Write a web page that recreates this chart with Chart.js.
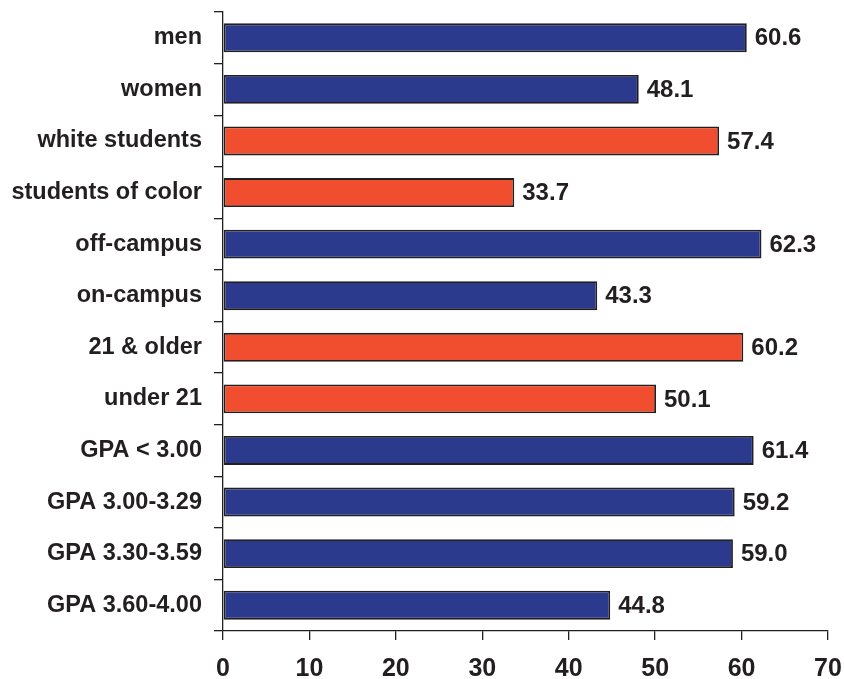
<!DOCTYPE html>
<html>
<head>
<meta charset="utf-8">
<script src="https://cdn.jsdelivr.net/npm/chart.js@4/dist/chart.umd.min.js"></script>
<style>
html,body{margin:0;padding:0;background:#fff;}
#wrap{width:844px;height:679px;}
</style>
</head>
<body>
<div id="wrap"><canvas id="c" width="844" height="679"></canvas></div>
<script>
const categories = ["men","women","white students","students of color","off-campus","on-campus","21 & older","under 21","GPA < 3.00","GPA 3.00-3.29","GPA 3.30-3.59","GPA 3.60-4.00"];
const values = [60.6,48.1,57.4,33.7,62.3,43.3,60.2,50.1,61.4,59.2,59.0,44.8];
const groups = ["blue","blue","red","red","blue","blue","red","red","blue","blue","blue","blue"];
const xTicks = [0,10,20,30,40,50,60,70];

const palette = {blue:"#2B3A8C", red:"#F04E2E"};
const ink = "#231F20";
const FAMILY = "'Liberation Sans', Arial, Helvetica, sans-serif";

const labelPlugin = {
  id:"valueLabels",
  afterDatasetsDraw(chart){
    const ctx = chart.ctx;
    const meta = chart.getDatasetMeta(0);
    ctx.save();
    ctx.font = "bold 24px " + FAMILY;
    ctx.fillStyle = ink;
    ctx.textAlign = "left";
    ctx.textBaseline = "middle";
    meta.data.forEach((bar,i)=>{
      ctx.fillText(values[i].toFixed(1), bar.x + 8, bar.y + 1);
    });
    ctx.restore();
  }
};

new Chart(document.getElementById("c"), {
  type:"bar",
  data:{
    labels:categories,
    datasets:[{
      data:values,
      backgroundColor:groups.map(g=>palette[g]),
      borderColor:ink,
      borderWidth:1.8,
      borderSkipped:false,
      categoryPercentage:1,
      barPercentage:0.56
    }]
  },
  options:{
    indexAxis:"y",
    responsive:false,
    animation:false,
    layout:{padding:{top:12,right:16,left:0,bottom:0}},
    plugins:{legend:{display:false},tooltip:{enabled:false}},
    scales:{
      x:{
        min:0,max:70,
        afterBuildTicks(s){ s.ticks = xTicks.map(v=>({value:v})); },
        afterFit(s){ s.height = 48; s.paddingLeft = 0; s.paddingRight = 0; },
        grid:{drawOnChartArea:false,drawTicks:true,tickLength:9,color:ink,lineWidth:1.3},
        border:{display:true,color:ink,width:1.3},
        ticks:{color:ink,padding:14,maxRotation:0,font:{family:FAMILY,size:25,weight:"bold"}}
      },
      y:{
        afterFit(s){ s.width = 223; s.paddingTop = 0; s.paddingBottom = 0; },
        grid:{offset:true,drawOnChartArea:false,drawTicks:true,tickLength:9,color:ink,lineWidth:1.3},
        border:{display:true,color:ink,width:1.3},
        ticks:{color:ink,padding:12,font:{family:FAMILY,size:23.5,weight:"bold"}}
      }
    }
  },
  plugins:[labelPlugin]
});
</script>
</body>
</html>
